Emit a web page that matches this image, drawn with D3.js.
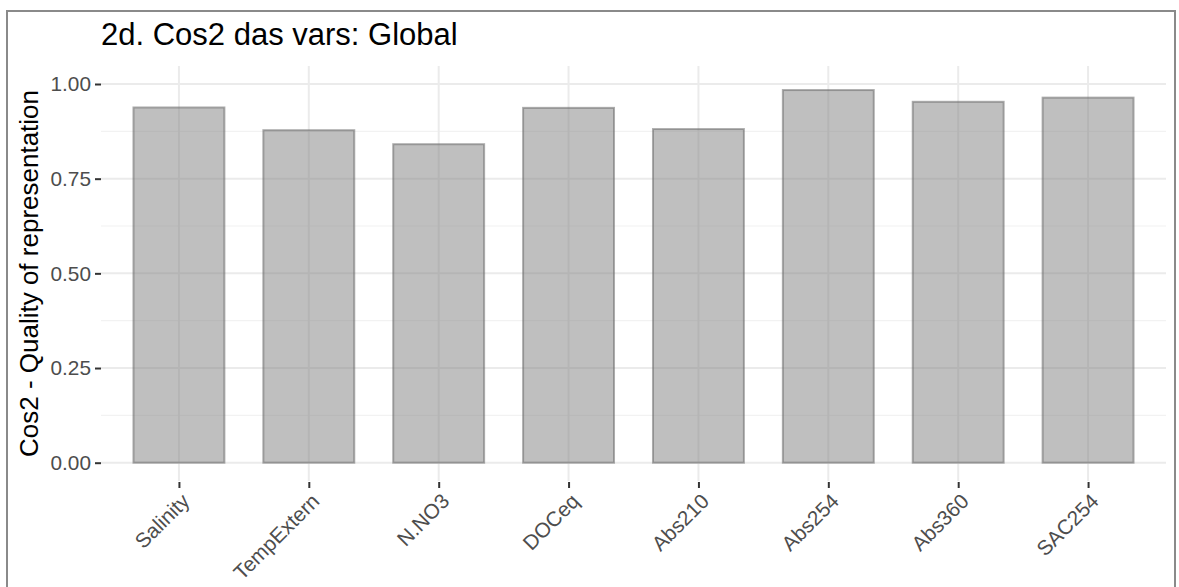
<!DOCTYPE html>
<html>
<head>
<meta charset="utf-8">
<script src="https://cdn.jsdelivr.net/npm/d3@7"></script>
<style>
  html, body { margin: 0; padding: 0; background: #fff; }
  svg { display: block; font-family: "Liberation Sans", Arial, sans-serif; }
</style>
</head>
<body>
<svg id="chart" width="1179" height="587"></svg>
<script>
// Quality of representation (cos2) of each variable, global PCA
const variables = ["Salinity", "TempExtern", "N.NO3", "DOCeq", "Abs210", "Abs254", "Abs360", "SAC254"];
const cos2 = [0.938, 0.878, 0.841, 0.937, 0.881, 0.984, 0.953, 0.964];
const yTicks = [0, 0.25, 0.5, 0.75, 1.0];
const yMinor = [0.125, 0.375, 0.625, 0.875];
const titleText = "2d. Cos2 das vars: Global";
const yTitle = "Cos2 - Quality of representation";

const svg = d3.select("#chart");

// outer frame of the plot
svg.append("rect")
  .attr("x", 7).attr("y", 11)
  .attr("width", 1168).attr("height", 600)
  .attr("fill", "none").attr("stroke", "#8a8a8a").attr("stroke-width", 2);

const panel = { left: 101, right: 1166, top: 66, bottom: 481 };

// discrete x: 0.6 step of padding outside the first/last category centers
const step = (panel.right - panel.left) / (variables.length - 1 + 1.2);
const xc = d3.scalePoint()
  .domain(variables)
  .range([panel.left + 0.6 * step, panel.right - 0.6 * step]);
const barW = 0.7 * step;

const y = d3.scaleLinear().domain([0, 1]).range([462.7, 84]);

const g = svg.append("g");

// minor horizontal grid
g.selectAll("line.minor").data(yMinor).enter().append("line")
  .attr("x1", panel.left).attr("x2", panel.right)
  .attr("y1", d => y(d)).attr("y2", d => y(d))
  .attr("stroke", "#f2f2f2").attr("stroke-width", 1.2);

// major horizontal grid
g.selectAll("line.hmajor").data(yTicks).enter().append("line")
  .attr("x1", panel.left).attr("x2", panel.right)
  .attr("y1", d => y(d)).attr("y2", d => y(d))
  .attr("stroke", "#ebebeb").attr("stroke-width", 2);

// major vertical grid
g.selectAll("line.vmajor").data(variables).enter().append("line")
  .attr("x1", d => xc(d)).attr("x2", d => xc(d))
  .attr("y1", panel.top).attr("y2", panel.bottom)
  .attr("stroke", "#ebebeb").attr("stroke-width", 2);

// bars
g.selectAll("rect.bar").data(variables).enter().append("rect")
  .attr("x", d => xc(d) - barW / 2)
  .attr("width", barW)
  .attr("y", (d, i) => y(cos2[i]))
  .attr("height", (d, i) => y(0) - y(cos2[i]))
  .attr("fill", "rgba(128,128,128,0.5)")
  .attr("stroke", "rgba(105,105,105,0.55)")
  .attr("stroke-width", 2);

// y axis
const yAxis = d3.axisLeft(y).tickValues(yTicks).tickFormat(d3.format(".2f")).tickSize(6).tickPadding(4);
const ya = svg.append("g").attr("transform", `translate(${panel.left},0)`).call(yAxis);
ya.select(".domain").remove();
ya.selectAll(".tick line").attr("stroke", "#333").attr("stroke-width", 2);
ya.selectAll(".tick text").attr("fill", "#4d4d4d").style("font-size", "20.8px")
  .attr("font-family", "Liberation Sans, Arial, sans-serif");

// x axis
const xAxis = d3.axisBottom(xc).tickSize(6).tickPadding(4);
const xa = svg.append("g").attr("transform", `translate(0,${panel.bottom + 1})`).call(xAxis);
xa.select(".domain").remove();
xa.selectAll(".tick line").attr("stroke", "#333").attr("stroke-width", 2);
xa.selectAll(".tick text")
  .attr("fill", "#4d4d4d").style("font-size", "20.8px")
  .attr("font-family", "Liberation Sans, Arial, sans-serif")
  .attr("text-anchor", "end")
  .attr("x", 1).attr("y", 10).attr("dy", "0.71em")
  .attr("transform", "rotate(-45, 1, 10)");

// y axis title
svg.append("text")
  .attr("transform", `translate(38, ${(panel.top + panel.bottom) / 2}) rotate(-90)`)
  .attr("text-anchor", "middle")
  .attr("fill", "#000")
  .style("font-size", "26px")
  .text(yTitle);

// plot title
svg.append("text")
  .attr("x", 101).attr("y", 45)
  .attr("fill", "#000")
  .style("font-size", "31px")
  .text(titleText);
</script>
</body>
</html>
